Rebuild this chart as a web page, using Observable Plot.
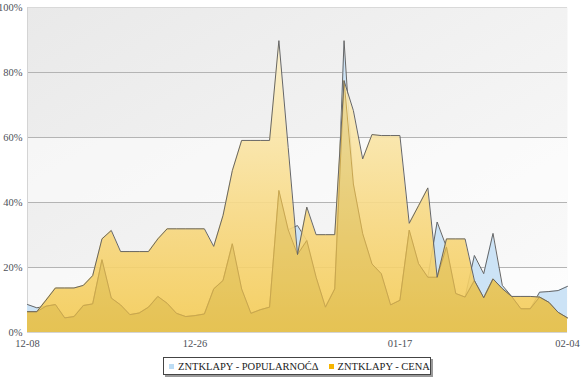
<!DOCTYPE html>
<html>
<head>
<meta charset="utf-8">
<script src="https://cdn.jsdelivr.net/npm/d3@7"></script>
<script src="https://cdn.jsdelivr.net/npm/@observablehq/plot@0.6"></script>
<style>
  body { margin: 0; background: #fff; font-family: "Liberation Serif", "Times New Roman", serif; }
  #wrap { position: relative; width: 583px; height: 385px; }
  #chart svg { display: block; }
  #legend { position: absolute; left: 163px; top: 357px; width: 266px; height: 16px;
            border: 1px solid #444; background: #fff; box-shadow: 2px 2px 0 #9a9a9a;
            font-size: 10.5px; color: #222; display: flex; align-items: center; white-space: nowrap; }
  .item { display: flex; align-items: center; }
  .sw { width: 5px; height: 5px; margin: 0 4px 0 5px; }
</style>
</head>
<body>
<div id="wrap">
  <div id="chart"></div>
  <div id="legend"></div>
</div>
<script>
// ---- data ----
const dates = ["12-08","12-09","12-10","12-11","12-12","12-13","12-14","12-15","12-16","12-17",
  "12-18","12-19","12-20","12-21","12-22","12-23","12-24","12-25","12-26","12-27","12-28","12-29",
  "12-30","12-31","01-01","01-02","01-03","01-04","01-05","01-06","01-07","01-08","01-09","01-10",
  "01-11","01-12","01-13","01-14","01-15","01-16","01-17","01-18","01-19","01-20","01-21","01-22",
  "01-23","01-24","01-25","01-26","01-27","01-28","01-29","01-30","01-31","02-01","02-02","02-03","02-04"];
const popularnosc = [8.6,7.6,8.1,8.6,4.5,4.9,8.3,8.8,22.4,10.6,8.5,5.5,6.0,7.8,11.1,9.0,5.9,4.9,5.2,5.7,
  13.4,16.0,27.3,13.4,5.9,7.0,7.8,43.7,31.6,32.9,28.3,17.0,7.8,13.4,89.8,45.7,30.4,21.1,18.1,8.5,
  9.9,31.5,21.2,17.0,34.0,26.3,12.0,10.9,23.7,18.1,30.5,14.5,11.1,7.3,7.3,12.4,12.6,12.9,14.2];
const cena = [6.4,6.4,10.0,13.7,13.7,13.7,14.5,17.5,28.8,31.4,24.9,24.9,24.9,24.9,28.8,31.9,31.9,31.9,31.9,31.9,
  26.5,36.0,49.8,59.1,59.1,59.1,59.1,89.8,56.9,24.0,38.6,30.1,30.1,30.1,77.5,68.3,53.4,60.9,60.6,60.6,
  60.6,33.6,39.0,44.5,17.0,28.8,28.8,28.8,16.0,10.7,16.5,13.5,11.1,11.1,11.1,10.9,9.3,6.2,4.5];
const xTickLabels = ["12-08","12-26","01-17","02-04"];
const yTicks = [0,20,40,60,80,100];
const bandLimits = [[0,20],[40,60]];
const seriesNames = ["ZNTKLAPY - POPULARNOĆΔ", "ZNTKLAPY - CENA"];
const seriesColors = ["#bcdcf4", "#f7b500"];

// ---- build ----
const parse = d3.utcParse("%Y-%m-%d");
const toDate = s => parse((s.startsWith("12") ? "2012-" : "2013-") + s);
const data = dates.map((d, i) => ({date: toDate(d), pop: popularnosc[i], cena: cena[i]}));
const first = data[0].date, last = data[data.length - 1].date;
const bands = bandLimits.map(([a, b]) => ({y1: a, y2: b, x1: first, x2: last}));

const chart = Plot.plot({
  width: 583, height: 352,
  marginLeft: 27, marginRight: 16, marginTop: 7, marginBottom: 20,
  style: {fontFamily: "'Liberation Serif','Times New Roman',serif", fontSize: "10.5px", color: "#4d4f58", background: "transparent", overflow: "visible"},
  x: {type: "utc", domain: [first, last], ticks: xTickLabels.map(toDate), tickFormat: d3.utcFormat("%m-%d"), tickSize: 0, tickPadding: 7, label: null},
  y: {domain: [0, 100], ticks: yTicks, tickFormat: d => d + "%", tickSize: 0, tickPadding: 5, label: null},
  marks: [
    Plot.frame({fill: "url(#bgGrad)", stroke: "none"}),
    Plot.rect(bands, {x1: "x1", x2: "x2", y1: "y1", y2: "y2", fill: "#ffffff", fillOpacity: 0.5}),
    Plot.ruleY(yTicks.filter(t => t > 0 && t < 100), {stroke: "#b4b4b4", strokeWidth: 1}),
    Plot.ruleY([100], {stroke: "#d9d9d9"}),
    Plot.ruleY([0], {stroke: "#d4d4d4"}),
    Plot.ruleX([first], {stroke: "#d4d4d4"}),
    Plot.areaY(data, {x: "date", y: "pop", fill: "#cce3f6", curve: "linear"}),
    Plot.lineY(data, {x: "date", y: "pop", stroke: "#666", strokeWidth: 1}),
    Plot.areaY(data, {x: "date", y: "cena", fill: "url(#cenaGrad)", fillOpacity: 0.9}),
    Plot.areaY(data, {x: "date", y: d => Math.min(d.pop, d.cena), fill: "rgb(195,160,30)", fillOpacity: 0.22}),
    Plot.lineY(data, {x: "date", y: d => Math.min(d.pop, d.cena), stroke: "#c8a650", strokeWidth: 1}),
    Plot.lineY(data, {x: "date", y: "cena", stroke: "#666", strokeWidth: 1})
  ]
});

// gradients
const svg = d3.select(chart);
const defs = svg.insert("defs", ":first-child");
const bg = defs.append("linearGradient").attr("id", "bgGrad").attr("x1", 0).attr("y1", 0).attr("x2", 1).attr("y2", 1);
bg.append("stop").attr("offset", 0).attr("stop-color", "#e9e9e9");
bg.append("stop").attr("offset", 1).attr("stop-color", "#fbfbfb");
const cg = defs.append("linearGradient").attr("id", "cenaGrad").attr("gradientUnits", "userSpaceOnUse")
  .attr("x1", 0).attr("y1", 7).attr("x2", 0).attr("y2", 332);
cg.append("stop").attr("offset", 0).attr("stop-color", "#fdf6dc");
cg.append("stop").attr("offset", 0.35).attr("stop-color", "#fae7ad");
cg.append("stop").attr("offset", 0.7).attr("stop-color", "#f7d67a");
cg.append("stop").attr("offset", 1).attr("stop-color", "#f3ca52");

document.getElementById("chart").appendChild(chart);

// legend
const legend = d3.select("#legend");
seriesNames.forEach((name, i) => {
  const it = legend.append("div").attr("class", "item").style("margin-right", i === 0 ? "5px" : "0");
  it.append("div").attr("class", "sw").style("background", seriesColors[i]);
  it.append("span").text(name);
});
</script>
</body>
</html>
